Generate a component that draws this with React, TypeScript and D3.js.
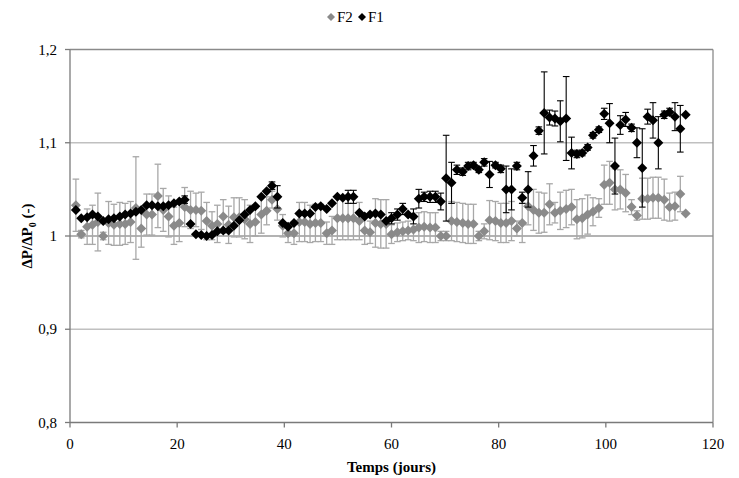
import React from "react";
import * as d3 from "d3";

const days = [
  1.1, 2.1, 3.2, 4.2, 5.2, 6.2, 7.2, 8.2, 9.3, 10.3,
  11.3, 12.3, 13.3, 14.3, 15.3, 16.4, 17.4, 18.4, 19.4, 20.4,
  21.4, 22.5, 23.5, 24.5, 25.5, 26.5, 27.5, 28.6, 29.6, 30.6,
  31.6, 32.6, 33.6, 34.6, 35.7, 36.7, 37.7, 38.7, 39.7, 40.7,
  41.8, 42.8, 43.8, 44.8, 45.8, 46.8, 47.9, 48.9, 49.9, 50.9,
  51.9, 52.9, 54.0, 55.0, 56.0, 57.0, 58.0, 59.0, 60.0, 61.1,
  62.1, 63.1, 64.1, 65.1, 66.1, 67.2, 68.2, 69.2, 70.2, 71.2,
  72.2, 73.3, 74.3, 75.3, 76.3, 77.3, 78.3, 79.4, 80.4, 81.4,
  82.4, 83.4, 84.4, 85.5, 86.5, 87.5, 88.5, 89.5, 90.5, 91.5,
  92.6, 93.6, 94.6, 95.6, 96.6, 97.6, 98.7, 99.7, 100.7, 101.7,
  102.7, 103.7, 104.8, 105.8, 106.8, 107.8, 108.8, 109.8, 110.9, 111.9,
  112.9, 113.9, 114.9,
];

const f2 = [
  1.033, 1.002, 1.010, 1.012, 1.015, 1.000, 1.014, 1.012, 1.013, 1.013,
  1.015, 1.030, 1.008, 1.023, 1.023, 1.043, 1.028, 1.021, 1.011, 1.014,
  1.031, 1.028, 1.028, 1.027, 1.016, 1.011, 1.013, 1.021, 1.012, 1.020,
  1.020, 1.018, 1.013, 1.015, 1.023, 1.027, 1.039, 1.029, 1.011, 1.003,
  1.003, 1.015, 1.015, 1.013, 1.014, 1.014, 1.003, 1.006, 1.019, 1.019,
  1.019, 1.019, 1.016, 1.006, 1.004, 1.014, 1.013, 1.013, 1.002, 1.004,
  1.005, 1.006, 1.007, 1.009, 1.010, 1.009, 1.009, 1.000, 1.000, 1.016,
  1.015, 1.014, 1.013, 1.013, 1.000, 1.005, 1.017, 1.016, 1.014, 1.014,
  1.016, 1.008, 1.014, 1.032, 1.028, 1.025, 1.025, 1.034, 1.025, 1.027,
  1.029, 1.031, 1.018, 1.019, 1.023, 1.026, 1.030, 1.055, 1.057, 1.050,
  1.050, 1.046, 1.031, 1.022, 1.040, 1.040, 1.041, 1.041, 1.039, 1.031,
  1.032, 1.045, 1.024,
];

const f2Err = [
  0.028, 0.004, 0.019, 0.021, 0.031, 0.004, 0.023, 0.022, 0.023, 0.022,
  0.022, 0.055, 0.020, 0.022, 0.022, 0.034, 0.023, 0.022, 0.020, 0.020,
  0.021, 0.020, 0.018, 0.020, 0.020, 0.015, 0.020, 0.018, 0.020, 0.021,
  0.021, 0.021, 0.020, 0.015, 0.020, 0.015, 0.009, 0.012, 0.012, 0.010,
  0.012, 0.021, 0.021, 0.020, 0.020, 0.020, 0.012, 0.015, 0.023, 0.023,
  0.023, 0.023, 0.020, 0.015, 0.012, 0.026, 0.026, 0.026, 0.010, 0.010,
  0.010, 0.010, 0.012, 0.016, 0.016, 0.016, 0.016, 0.005, 0.005, 0.021,
  0.021, 0.021, 0.021, 0.021, 0.005, 0.008, 0.021, 0.021, 0.021, 0.021,
  0.021, 0.008, 0.021, 0.020, 0.022, 0.022, 0.021, 0.022, 0.011, 0.020,
  0.020, 0.019, 0.021, 0.021, 0.021, 0.015, 0.010, 0.021, 0.023, 0.022,
  0.021, 0.020, 0.008, 0.005, 0.022, 0.022, 0.022, 0.022, 0.022, 0.015,
  0.015, 0.019, 0.0,
];

const f1 = [
  1.028, 1.019, 1.020, 1.023, 1.021, 1.016, 1.018, 1.019, 1.021, 1.023,
  1.024, 1.026, 1.028, 1.033, 1.033, 1.032, 1.032, 1.033, 1.035, 1.037,
  1.039, 1.013, 1.002, 1.001, 1.000, 1.001, 1.005, 1.006, 1.006, 1.011,
  1.017, 1.023, 1.028, 1.032, 1.042, 1.048, 1.054, 1.042, 1.014, 1.010,
  1.014, 1.024, 1.024, 1.024, 1.031, 1.032, 1.029, 1.035, 1.042, 1.041,
  1.042, 1.042, 1.025, 1.021, 1.023, 1.024, 1.023, 1.016, 1.019, 1.023,
  1.029, 1.023, 1.021, 1.040, 1.042, 1.042, 1.042, 1.037, 1.062, 1.057,
  1.071, 1.069, 1.075, 1.076, 1.071, 1.079, 1.066, 1.076, 1.072, 1.050,
  1.050, 1.075, 1.041, 1.050, 1.086, 1.113, 1.132, 1.127, 1.126, 1.123,
  1.126, 1.089, 1.088, 1.089, 1.095, 1.108, 1.114, 1.131, 1.121, 1.075,
  1.119, 1.125, 1.116, 1.100, 1.073, 1.128, 1.124, 1.100, 1.130, 1.133,
  1.128, 1.115, 1.130,
];

const f1Err = [
  0, 0, 0, 0, 0, 0, 0, 0, 0, 0,
  0, 0, 0, 0, 0, 0, 0, 0, 0, 0,
  0.004, 0, 0, 0, 0, 0, 0, 0, 0, 0,
  0, 0, 0, 0, 0, 0, 0.004, 0.012, 0, 0,
  0, 0, 0, 0, 0, 0, 0, 0, 0, 0,
  0.007, 0.007, 0, 0, 0, 0, 0, 0, 0.006, 0.006,
  0.006, 0, 0.008, 0.010, 0.005, 0.006, 0.006, 0.009, 0.046, 0.022,
  0.005, 0.004, 0.004, 0.003, 0.003, 0.004, 0.014, 0.003, 0.004, 0.025,
  0.022, 0.004, 0.006, 0.019, 0.011, 0.004, 0.044, 0.008, 0.008, 0.022,
  0.045, 0.017, 0.004, 0.003, 0.003, 0.003, 0.003, 0.006, 0.021, 0.030,
  0.010, 0.0075, 0.004, 0.016, 0.042, 0.008, 0.019, 0.028, 0.004, 0.004,
  0.015, 0.025, 0,
];

const xTicks = [0, 20, 40, 60, 80, 100, 120];
const yTicks = [0.8, 0.9, 1.0, 1.1, 1.2];
const yTickLabels = ["0,8", "0,9", "1", "1,1", "1,2"];
const seriesNames = ["F2", "F1"];

const W = 739;
const H = 478;
const FONT = "'Liberation Serif', 'Times New Roman', serif";

export default function App() {
  const x = d3.scaleLinear().domain([0, 120]).range([70, 713]);
  const y = d3.scaleLinear().domain([0.8, 1.2]).range([422.5, 49.5]);

  const diamond = (cx: number, cy: number, r: number) =>
    `M${cx},${cy - r}L${cx + r},${cy}L${cx},${cy + r}L${cx - r},${cy}Z`;

  const grayMarker = "#8a8a8a";
  const grayBar = "#a8a8a8";
  const cap = 3.3;

  const errBars = (vals: number[], errs: number[], color: string, w: number) =>
    vals.map((v, i) => {
      const e = errs[i];
      if (!e) return null;
      const cx = x(days[i]);
      const y1 = y(v + e);
      const y2 = y(v - e);
      return (
        <g key={i} stroke={color} strokeWidth={w}>
          <line x1={cx} x2={cx} y1={y1} y2={y2} />
          <line x1={cx - cap} x2={cx + cap} y1={y1} y2={y1} />
          <line x1={cx - cap} x2={cx + cap} y1={y2} y2={y2} />
        </g>
      );
    });

  const [x0, x1] = x.range();
  const [yb, yt] = y.range();

  return (
    <svg
      width={W}
      height={H}
      style={{ position: "absolute", left: 0, top: 0, background: "#fff" }}
      fontFamily={FONT}
    >
      <rect x={0} y={0} width={W} height={H} fill="#fff" />
      {yTicks.slice(1, 4).map((t) => (
        <line
          key={t}
          x1={x0}
          x2={x1}
          y1={y(t)}
          y2={y(t)}
          stroke={t === 1.0 ? "#9a9a9a" : "#c0c0c0"}
          strokeWidth={1.3}
        />
      ))}
      <line x1={x0} x2={x1} y1={yt} y2={yt} stroke="#8a8a8a" strokeWidth={1.3} />
      <line x1={x1} x2={x1} y1={yt} y2={yb} stroke="#8a8a8a" strokeWidth={1.3} />
      <line x1={x0} x2={x0} y1={yt} y2={yb} stroke="#7a7a7a" strokeWidth={1.3} />
      <line x1={x0} x2={x1} y1={yb} y2={yb} stroke="#7a7a7a" strokeWidth={1.3} />
      {yTicks.map((t, i) => (
        <g key={t}>
          <line x1={x0 - 5} x2={x0} y1={y(t)} y2={y(t)} stroke="#7a7a7a" strokeWidth={1.3} />
          <text x={57} y={y(t) + 5} textAnchor="end" fontSize={15} fill="#000">
            {yTickLabels[i]}
          </text>
        </g>
      ))}
      {xTicks.map((t) => (
        <g key={t}>
          <line x1={x(t)} x2={x(t)} y1={yb} y2={yb + 5} stroke="#7a7a7a" strokeWidth={1.3} />
          <text x={x(t)} y={yb + 26} textAnchor="middle" fontSize={15} fill="#000">
            {t}
          </text>
        </g>
      ))}
      <text x={(x0 + x1) / 2} y={472} textAnchor="middle" fontSize={15} fontWeight="bold">
        Temps (jours)
      </text>
      <text
        transform={`translate(32,${y(1.0)}) rotate(-90)`}
        textAnchor="middle"
        fontSize={15}
        fontWeight="bold"
      >
        ΔP/ΔP<tspan dy={4} fontSize={10}>0</tspan>
        <tspan dy={-4}> (-)</tspan>
      </text>
      {errBars(f2, f2Err, grayBar, 1.3)}
      {f2.map((v, i) => (
        <path key={i} d={diamond(x(days[i]), y(v), 5)} fill={grayMarker} />
      ))}
      {errBars(f1, f1Err, "#000", 1.1)}
      {f1.map((v, i) => (
        <path key={i} d={diamond(x(days[i]), y(v), 5)} fill="#000" />
      ))}
      <g fontSize={15}>
        <path d={diamond(331, 17, 4)} fill={grayMarker} />
        <text x={337} y={22}>{seriesNames[0]}</text>
        <path d={diamond(362, 17, 4)} fill="#000" />
        <text x={368} y={22}>{seriesNames[1]}</text>
      </g>
    </svg>
  );
}
